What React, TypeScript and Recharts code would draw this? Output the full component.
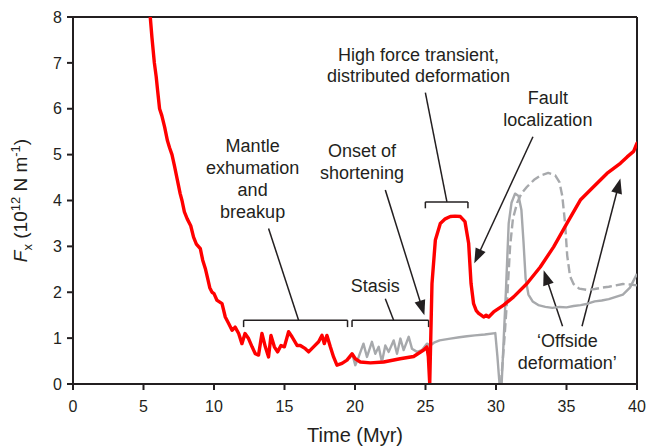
import React from 'react';
import { LineChart, Line, XAxis, YAxis, ReferenceLine, ReferenceDot } from 'recharts';

// ---- Data (time in Myr, force in 10^12 N/m) ----
const redTime = [5.48, 5.6, 5.77, 5.9, 6.0, 6.14, 6.3, 6.5, 6.7, 6.85, 7.02, 7.2, 7.4, 7.6, 7.73, 7.9, 8.1, 8.35, 8.55, 8.75, 9.03, 9.2, 9.4, 9.55, 9.7, 9.86, 10.0, 10.2, 10.57, 10.8, 11.04, 11.28, 11.5, 11.75, 11.98, 12.2, 12.45, 12.7, 12.93, 13.16, 13.4, 13.64, 13.87, 14.04, 14.28, 14.51, 14.75, 14.99, 15.29, 15.53, 15.89, 16.12, 16.48, 16.71, 17.06, 17.42, 17.66, 17.82, 18.01, 18.25, 18.48, 18.72, 19.08, 19.43, 19.79, 20.02, 20.38, 21.09, 22.03, 23.2, 24.16, 24.87, 25.1, 25.2, 25.3, 25.46, 25.7, 26.05, 26.4, 26.76, 27.1, 27.47, 27.8, 28.06, 28.23, 28.41, 28.6, 28.77, 28.95, 29.12, 29.3, 29.48, 29.83, 30.2, 30.54, 31.25, 32.2, 33.14, 34.09, 35.03, 35.98, 36.92, 37.87, 38.82, 39.3, 39.76, 40.0];
const redForce = [8.0, 7.55, 7.0, 6.7, 6.4, 6.0, 5.85, 5.6, 5.3, 5.15, 5.0, 4.75, 4.45, 4.15, 4.0, 3.75, 3.6, 3.45, 3.2, 3.05, 2.95, 2.7, 2.5, 2.3, 2.1, 2.0, 1.97, 1.83, 1.75, 1.46, 1.32, 1.17, 1.24, 1.1, 0.88, 1.1, 0.99, 0.81, 0.66, 0.63, 1.1, 0.81, 0.59, 1.06, 0.81, 0.7, 0.84, 0.81, 1.14, 1.03, 0.84, 0.84, 0.77, 0.7, 0.81, 0.92, 1.06, 0.88, 1.06, 0.81, 0.59, 0.41, 0.45, 0.52, 0.66, 0.55, 0.48, 0.46, 0.48, 0.55, 0.6, 0.74, 0.81, 0.6, 0.0, 2.19, 3.14, 3.5, 3.6, 3.65, 3.66, 3.65, 3.54, 3.07, 2.19, 1.75, 1.6, 1.54, 1.5, 1.46, 1.5, 1.46, 1.57, 1.65, 1.72, 1.9, 2.19, 2.55, 2.99, 3.5, 4.01, 4.3, 4.59, 4.81, 4.95, 5.07, 5.25];

const graySolidTime = [19.6, 19.8, 20.02, 20.26, 20.6, 20.85, 21.2, 21.44, 21.68, 21.91, 22.15, 22.39, 22.74, 22.98, 23.22, 23.45, 23.81, 24.04, 24.4, 24.75, 25.1, 25.34, 25.6, 26.0, 26.76, 27.4, 27.94, 28.5, 29.2, 29.95, 30.1, 30.25, 30.4, 30.55, 30.7, 30.9, 31.1, 31.35, 31.6, 31.8, 31.95, 32.1, 32.3, 32.6, 33.0, 33.5, 34.0, 34.5, 35.0, 35.5, 36.0, 36.5, 37.0, 37.5, 38.0, 38.5, 39.0, 39.5, 40.0];
const graySolidForce = [0.55, 0.66, 0.41, 0.59, 0.88, 0.59, 0.92, 0.66, 0.81, 0.48, 0.84, 0.7, 0.95, 0.66, 0.99, 0.74, 1.03, 0.77, 0.7, 0.74, 0.88, 0.84, 0.9, 0.95, 0.99, 1.02, 1.04, 1.06, 1.08, 1.11, 0.6, 0.0, 0.0, 1.0, 2.0, 3.5, 3.95, 4.15, 4.1, 3.8, 3.1, 2.3, 1.95, 1.8, 1.72, 1.68, 1.66, 1.68, 1.67, 1.7, 1.72, 1.75, 1.8, 1.82, 1.85, 1.9, 1.95, 2.1, 2.4];

const grayDashTime = [30.35, 30.6, 30.8, 31.0, 31.2, 31.5, 31.8, 32.2, 32.7, 33.2, 33.7, 34.2, 34.5, 34.7, 34.9, 35.05, 35.25, 35.5, 35.9, 36.5, 37.0, 37.5, 38.0, 38.5, 39.0, 39.5, 40.0];
const grayDashForce = [0.0, 1.0, 1.9, 3.0, 3.6, 3.95, 4.15, 4.3, 4.45, 4.55, 4.6, 4.55, 4.4, 4.1, 3.5, 2.8, 2.35, 2.18, 2.08, 2.05, 2.07, 2.1, 2.12, 2.15, 2.18, 2.17, 2.15];

const xTicks = [0, 5, 10, 15, 20, 25, 30, 35, 40];
const yTicks = [0, 1, 2, 3, 4, 5, 6, 7, 8];

const redData = redTime.map((t, i) => ({ t, f: redForce[i] }));
const graySolidData = graySolidTime.map((t, i) => ({ t, f: graySolidForce[i] }));
const grayDashData = grayDashTime.map((t, i) => ({ t, f: grayDashForce[i] }));

// ---- Annotations (data coordinates) ----
const labels = [
  { x: 12.74, y: 5.05, lines: ['Mantle', 'exhumation', 'and', 'breakup'] },
  { x: 20.5, y: 4.94, lines: ['Onset of', 'shortening'] },
  { x: 21.44, y: 2.0, lines: ['Stasis'] },
  { x: 24.51, y: 7.05, lines: ['High force transient,', 'distributed deformation'] },
  { x: 33.68, y: 6.1, lines: ['Fault', 'localization'] },
  { x: 35.06, y: 0.8, lines: ['\u2018Offside', 'deformation\u2019'] },
];
const segments: [number, number, number, number][] = [
  // mantle bracket
  [12.1, 1.39, 19.47, 1.39], [12.1, 1.39, 12.1, 1.24], [19.47, 1.39, 19.47, 1.24], [13.87, 3.39, 16.0, 1.39],
  // stasis bracket
  [19.79, 1.39, 25.22, 1.39], [19.79, 1.39, 19.79, 1.24], [25.22, 1.39, 25.22, 1.24], [22.15, 1.86, 22.74, 1.39],
  // high force bracket
  [24.99, 3.97, 28.01, 3.97], [24.99, 3.97, 24.99, 3.83], [28.01, 3.97, 28.01, 3.83], [24.99, 6.35, 26.52, 3.97],
];
const arrows: [number, number, number, number][] = [
  [22.15, 4.23, 24.92, 1.5],
  [32.62, 5.39, 28.46, 2.63],
  [34.72, 1.26, 33.38, 2.48],
  [36.1, 1.26, 38.82, 4.48],
];

const INK = '#231f20';
const FONT = '"Liberation Sans", Arial, Helvetica, sans-serif';

const ArrowShape = (p: any) => {
  const { x1, y1, x2, y2 } = p;
  const dx = x2 - x1, dy = y2 - y1;
  const len = Math.hypot(dx, dy) || 1;
  const ux = dx / len, uy = dy / len;
  const L = 15, W = 5.5;
  const bx = x2 - ux * L, by = y2 - uy * L;
  const nx = -uy, ny = ux;
  return (
    <g>
      <line x1={x1} y1={y1} x2={bx + ux * 2} y2={by + uy * 2} stroke={INK} strokeWidth={1.5} />
      <polygon points={`${x2},${y2} ${bx + nx * W},${by + ny * W} ${bx - nx * W},${by - ny * W}`} fill={INK} />
    </g>
  );
};

const makeText = (lines: string[]) => (p: any) => (
  <text x={p.cx} y={p.cy} textAnchor="middle" fontSize={18} fill={INK} fontFamily={FONT}>
    {lines.map((l, i) => (
      <tspan key={i} x={p.cx} dy={i === 0 ? 0 : 21.8}>{l}</tspan>
    ))}
  </text>
);

const YLabel = (p: any) => {
  const vb = p.viewBox || { x: 13, y: 17, width: 60, height: 367 };
  const cx = vb.x + 14;
  const cy = vb.y + vb.height / 2;
  return (
    <text x={cx} y={cy} transform={`rotate(-90, ${cx}, ${cy})`} textAnchor="middle" fontSize={19} fill={INK} fontFamily={FONT}>
      <tspan fontStyle="italic">F</tspan>
      <tspan fontSize={13} dy={5}>x</tspan>
      <tspan dy={-5}> (10</tspan>
      <tspan fontSize={13} dy={-7}>12</tspan>
      <tspan dy={7}> N m</tspan>
      <tspan fontSize={13} dy={-7}>-1</tspan>
      <tspan dy={7}>)</tspan>
    </text>
  );
};

const XLabel = (p: any) => {
  const vb = p.viewBox || { x: 73, y: 384, width: 564, height: 40 };
  return (
    <text x={vb.x + vb.width / 2} y={vb.y + 58} textAnchor="middle" fontSize={20} fill={INK} fontFamily={FONT}>
      Time (Myr)
    </text>
  );
};

export default function App() {
  return (
    <div style={{ position: 'absolute', left: 0, top: 0, background: '#fff' }}>
      <LineChart width={646} height={448} margin={{ top: 17, right: 9, left: 13, bottom: 24 }}>
        <XAxis
          type="number"
          dataKey="t"
          domain={[0, 40]}
          ticks={xTicks}
          allowDataOverflow
          height={40}
          stroke={INK}
          strokeWidth={2}
          tickSize={6}
          tickMargin={11}
          tick={{ fill: INK, fontSize: 16, fontFamily: FONT }}
          tickLine={{ stroke: INK, strokeWidth: 2 }}
          label={<XLabel />}
        />
        <YAxis
          type="number"
          dataKey="f"
          domain={[0, 8]}
          ticks={yTicks}
          allowDataOverflow
          width={60}
          stroke={INK}
          strokeWidth={2}
          tickSize={6}
          tickMargin={5}
          tick={{ fill: INK, fontSize: 16, fontFamily: FONT }}
          tickLine={{ stroke: INK, strokeWidth: 2 }}
          label={<YLabel />}
        />
        <ReferenceLine y={8} stroke={INK} strokeWidth={2} />
        <ReferenceLine x={40} stroke={INK} strokeWidth={2} />
        {segments.map((s, i) => (
          <ReferenceLine key={'s' + i} segment={[{ x: s[0], y: s[1] }, { x: s[2], y: s[3] }]} stroke={INK} strokeWidth={1.5} />
        ))}
        {arrows.map((s, i) => (
          <ReferenceLine key={'a' + i} segment={[{ x: s[0], y: s[1] }, { x: s[2], y: s[3] }]} shape={ArrowShape} />
        ))}
        {labels.map((l, i) => (
          <ReferenceDot key={'l' + i} x={l.x} y={l.y} r={0} shape={makeText(l.lines)} />
        ))}
        <Line data={grayDashData} dataKey="f" type="linear" stroke="#a7a9ac" strokeWidth={2.4} strokeDasharray="9 4" strokeLinejoin="round" dot={false} isAnimationActive={false} />
        <Line data={graySolidData} dataKey="f" type="linear" stroke="#a7a9ac" strokeWidth={2.4} strokeLinejoin="round" dot={false} isAnimationActive={false} />
        <Line data={redData} dataKey="f" type="linear" stroke="#ff0000" strokeWidth={3.4} strokeLinejoin="round" strokeLinecap="round" dot={false} isAnimationActive={false} />
      </LineChart>
    </div>
  );
}
